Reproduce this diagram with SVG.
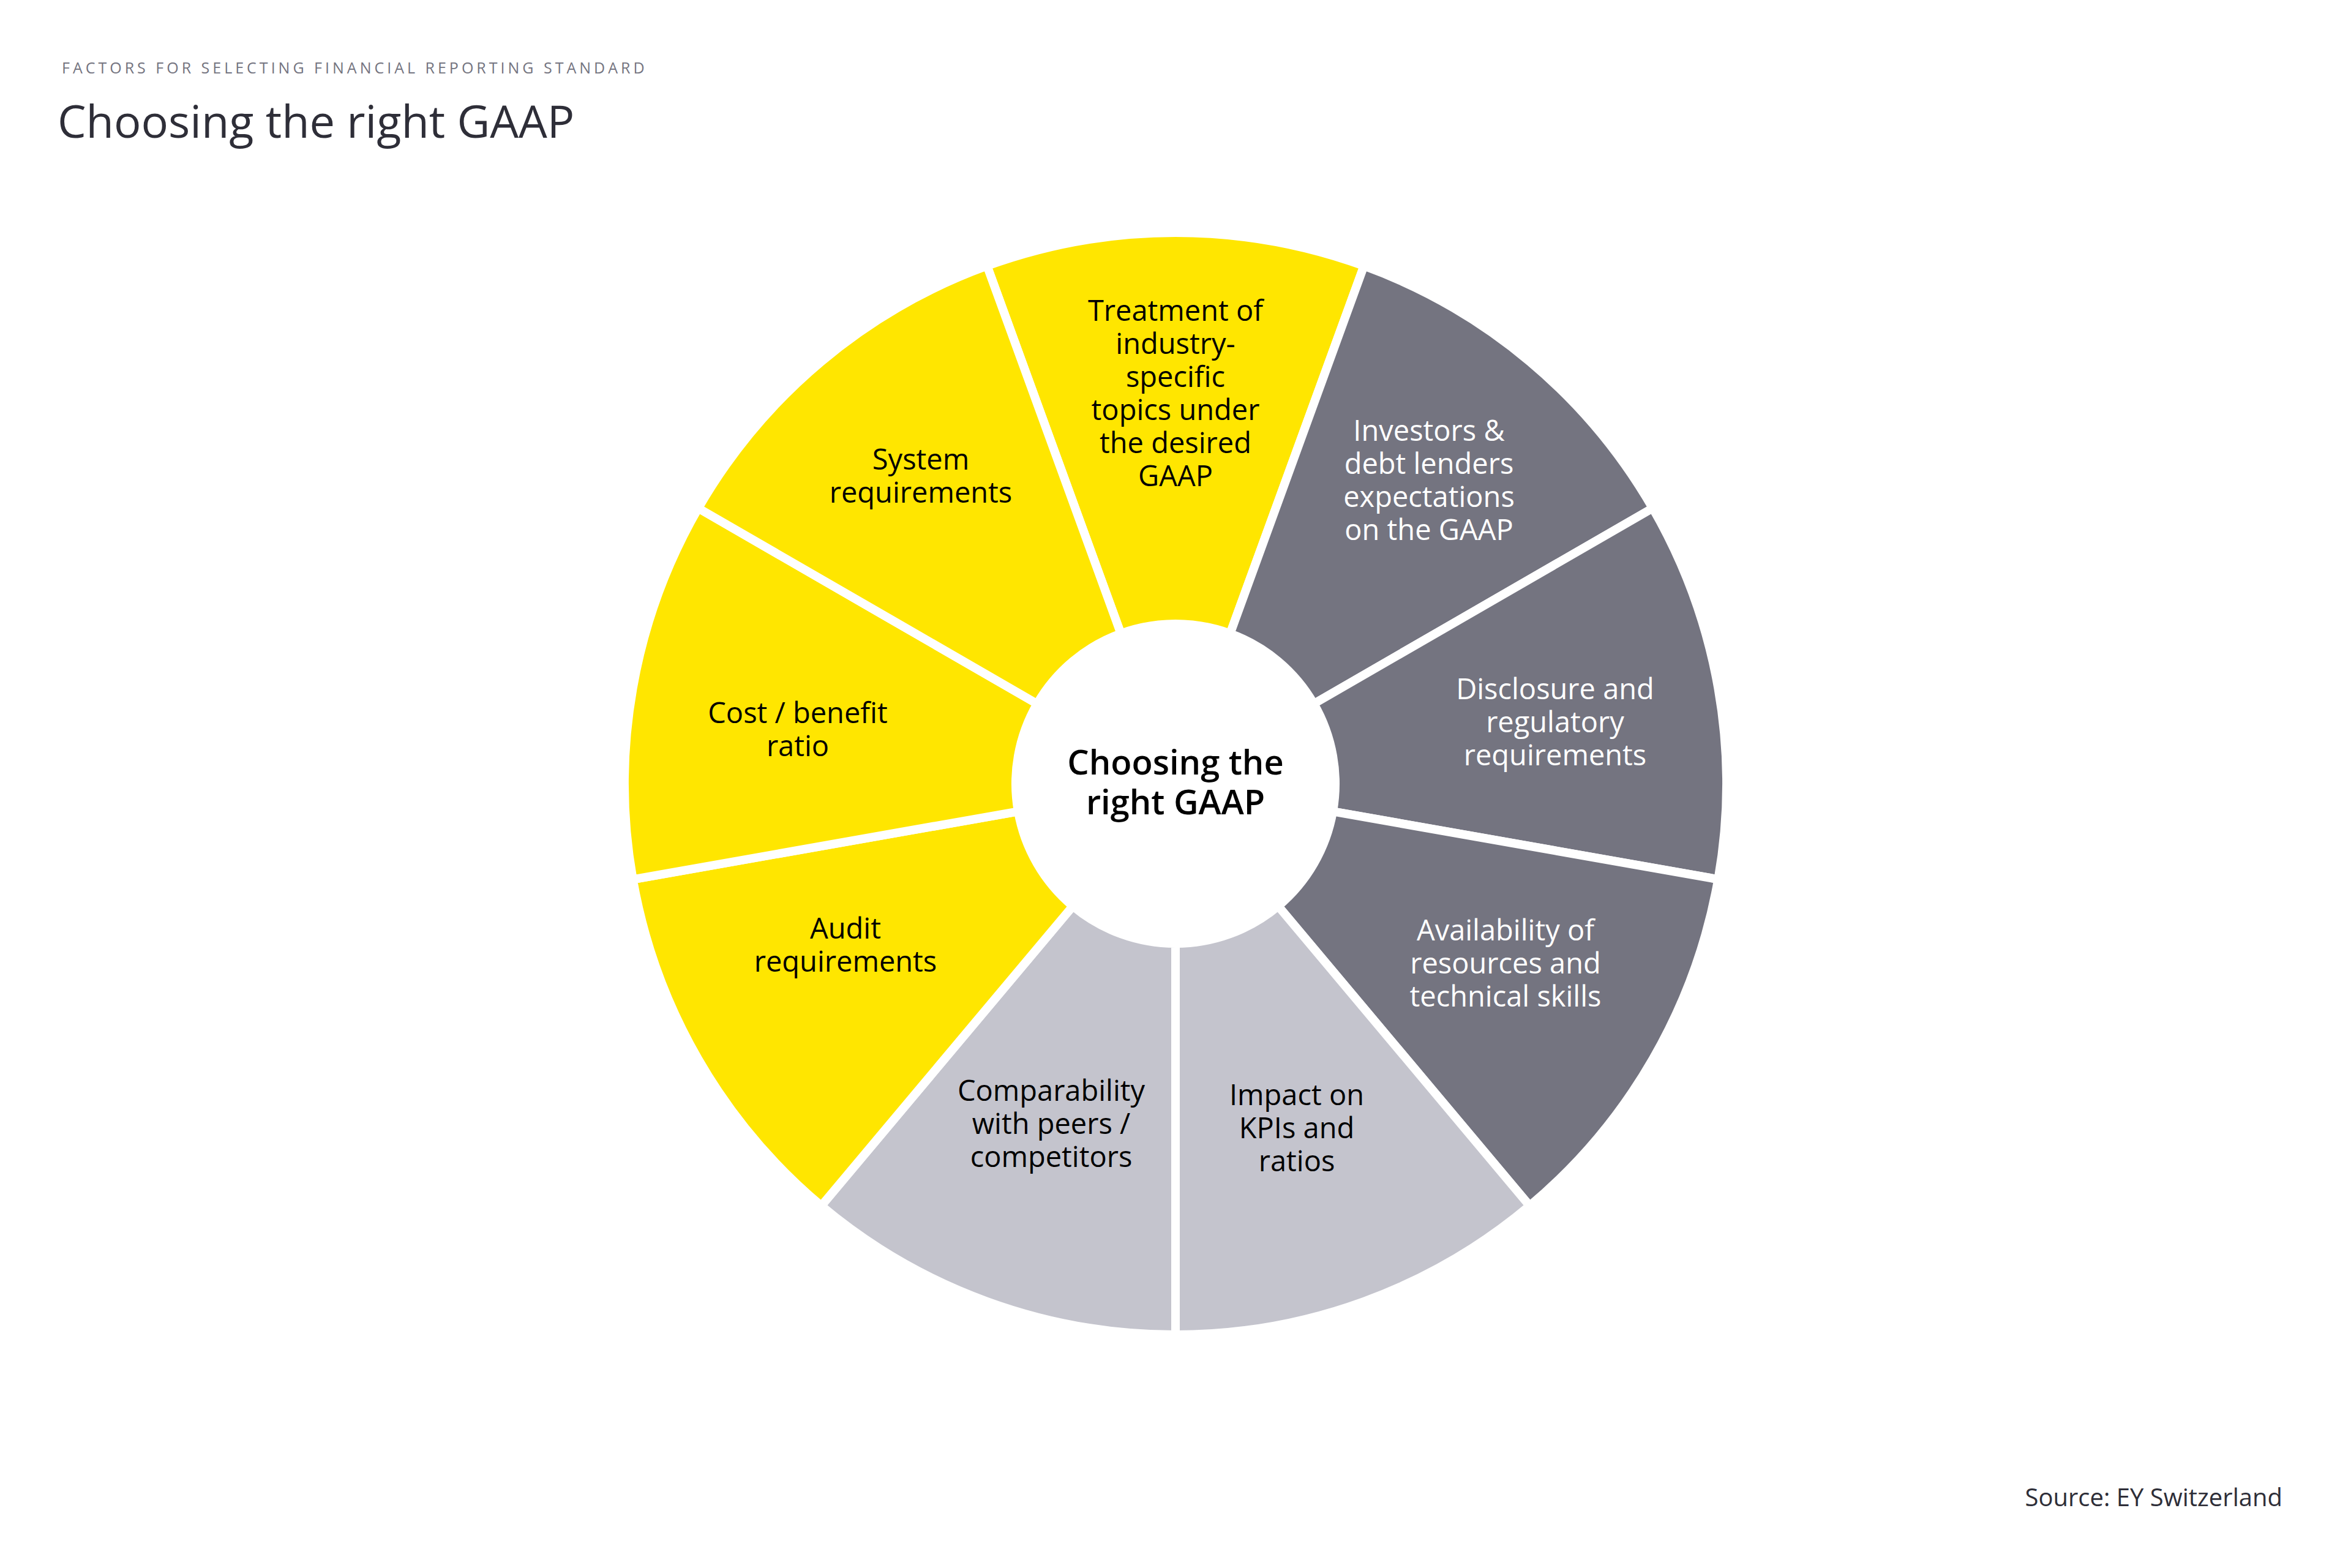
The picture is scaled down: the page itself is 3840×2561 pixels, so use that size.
<svg xmlns="http://www.w3.org/2000/svg" width="3840" height="2561" viewBox="0 0 3840 2561">
<style>
.bg{fill:#ffffff}
.seg{stroke:#ffffff;stroke-width:14;stroke-linejoin:miter}
.y{fill:#FFE600}
.d{fill:#747480}
.l{fill:#C4C4CD}
.lbl{font-family:"Open Sans","Noto Sans","Liberation Sans",sans-serif;font-size:47px;text-anchor:middle}
.dk{fill:#000000}
.wt{fill:#ffffff}
.ctr{font-family:"Open Sans","Noto Sans","Liberation Sans",sans-serif;font-size:56px;font-weight:600;text-anchor:middle;fill:#000000}
.sub{font-family:"Open Sans","Noto Sans","Liberation Sans",sans-serif;font-size:25px;letter-spacing:5px;fill:#747480}
.ttl{font-family:"Open Sans","Noto Sans","Liberation Sans",sans-serif;font-size:74px;fill:#2E2E38}
.src{font-family:"Open Sans","Noto Sans","Liberation Sans",sans-serif;font-size:40px;fill:#2E2E38;text-anchor:end}
</style>
<rect class="bg" x="0" y="0" width="3840" height="2561"/>
<g id="header">
<text class="sub" x="101" y="120">FACTORS FOR SELECTING FINANCIAL REPORTING STANDARD</text>
<text class="ttl" x="94" y="225">Choosing the right GAAP</text>
</g>
<g id="seg-treatment">
<path class="seg y" d="M1612.18,434.28 A900,900 0 0 1 2227.82,434.28 L2009.27,1034.74 A261,261 0 0 0 1830.73,1034.74 Z"/>
<text class="lbl dk"><tspan x="1920" y="524">Treatment of</tspan><tspan x="1920" y="578">industry-</tspan><tspan x="1920" y="632">specific</tspan><tspan x="1920" y="686">topics under</tspan><tspan x="1920" y="740">the desired</tspan><tspan x="1920" y="794">GAAP</tspan></text>
</g>
<g id="seg-investors">
<path class="seg d" d="M2227.82,434.28 A900,900 0 0 1 2699.42,830 L2146.03,1149.5 A261,261 0 0 0 2009.27,1034.74 Z"/>
<text class="lbl wt"><tspan x="2334" y="720">Investors &amp;</tspan><tspan x="2334" y="774">debt lenders</tspan><tspan x="2334" y="828">expectations</tspan><tspan x="2334" y="882">on the GAAP</tspan></text>
</g>
<g id="seg-disclosure">
<path class="seg d" d="M2699.42,830 A900,900 0 0 1 2806.33,1436.29 L2177.04,1325.32 A261,261 0 0 0 2146.03,1149.5 Z"/>
<text class="lbl wt"><tspan x="2540" y="1142">Disclosure and</tspan><tspan x="2540" y="1196">regulatory</tspan><tspan x="2540" y="1250">requirements</tspan></text>
</g>
<g id="seg-availability">
<path class="seg d" d="M2806.33,1436.29 A900,900 0 0 1 2498.51,1969.44 L2087.77,1479.94 A261,261 0 0 0 2177.04,1325.32 Z"/>
<text class="lbl wt"><tspan x="2459" y="1536">Availability of</tspan><tspan x="2459" y="1590">resources and</tspan><tspan x="2459" y="1644">technical skills</tspan></text>
</g>
<g id="seg-impact">
<path class="seg l" d="M2498.51,1969.44 A900,900 0 0 1 1920,2180 L1920,1541 A261,261 0 0 0 2087.77,1479.94 Z"/>
<text class="lbl dk"><tspan x="2118" y="1805">Impact on</tspan><tspan x="2118" y="1859">KPIs and</tspan><tspan x="2118" y="1913">ratios</tspan></text>
</g>
<g id="seg-comparability">
<path class="seg l" d="M1920,2180 A900,900 0 0 1 1341.49,1969.44 L1752.23,1479.94 A261,261 0 0 0 1920,1541 Z"/>
<text class="lbl dk"><tspan x="1717" y="1798">Comparability</tspan><tspan x="1717" y="1852">with peers /</tspan><tspan x="1717" y="1906">competitors</tspan></text>
</g>
<g id="seg-audit">
<path class="seg y" d="M1341.49,1969.44 A900,900 0 0 1 1033.67,1436.29 L1662.96,1325.32 A261,261 0 0 0 1752.23,1479.94 Z"/>
<text class="lbl dk"><tspan x="1381" y="1533">Audit</tspan><tspan x="1381" y="1587">requirements</tspan></text>
</g>
<g id="seg-cost">
<path class="seg y" d="M1033.67,1436.29 A900,900 0 0 1 1140.58,830 L1693.97,1149.5 A261,261 0 0 0 1662.96,1325.32 Z"/>
<text class="lbl dk"><tspan x="1303" y="1181">Cost / benefit</tspan><tspan x="1303" y="1235">ratio</tspan></text>
</g>
<g id="seg-system">
<path class="seg y" d="M1140.58,830 A900,900 0 0 1 1612.18,434.28 L1830.73,1034.74 A261,261 0 0 0 1693.97,1149.5 Z"/>
<text class="lbl dk"><tspan x="1504" y="767">System</tspan><tspan x="1504" y="821">requirements</tspan></text>
</g>
<g id="center">
<text class="ctr"><tspan x="1920" y="1265">Choosing the</tspan><tspan x="1920" y="1330">right GAAP</tspan></text>
</g>
<g id="connectors"></g>
<g id="source">
<text class="src" x="3728" y="2460">Source: EY Switzerland</text>
</g>
</svg>
